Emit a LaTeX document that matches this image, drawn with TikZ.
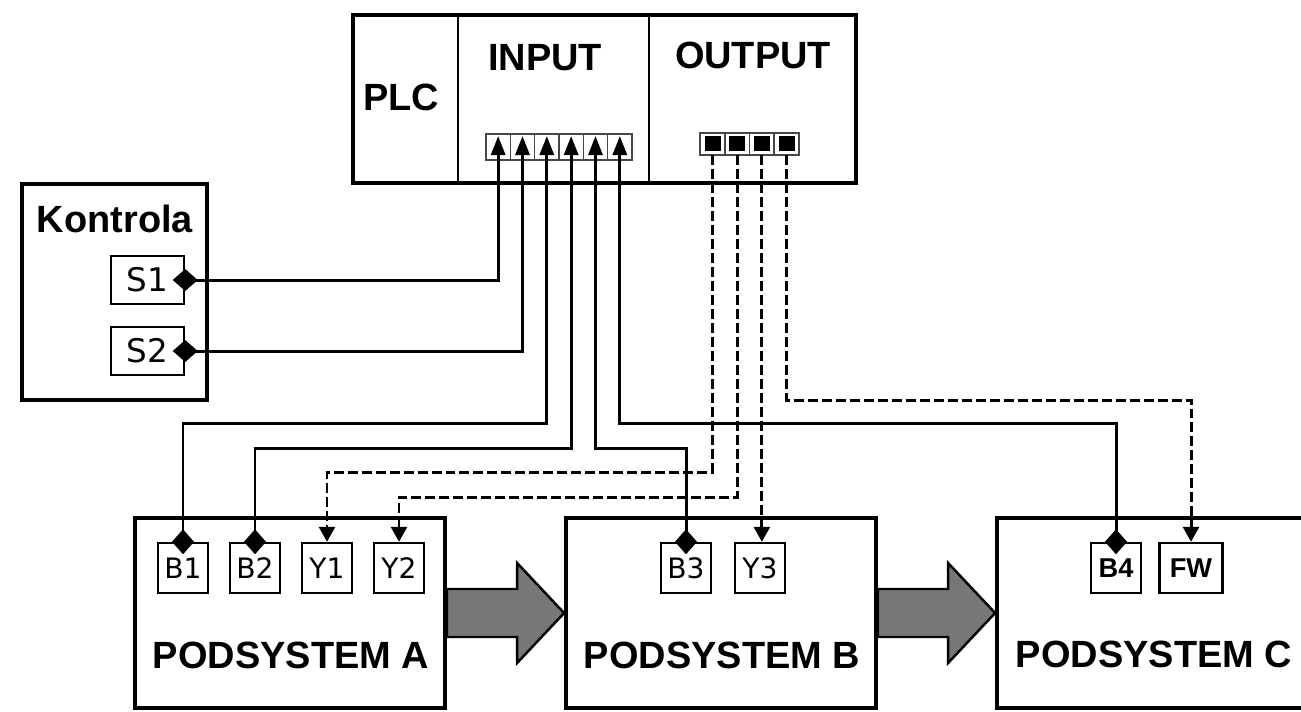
\documentclass[tikz,border=0pt]{standalone}
\usepackage{fontspec}
\setmainfont{Liberation Sans}
\newfontfamily\portfont{DejaVu Sans}
\usetikzlibrary{arrows.meta,calc,positioning,backgrounds}

\definecolor{flowgray}{RGB}{119,119,119}
\definecolor{stripgray}{RGB}{70,70,70}

\tikzset{
  block/.style={draw,line width=2.2pt,inner sep=0pt},
  title/.style={inner sep=0pt,font=\fontsize{21.6}{24}\selectfont\bfseries},
  port/.style={draw,line width=1.4pt,inner sep=0pt,minimum width=1cm,
    minimum height=1cm,font=\portfont\fontsize{16}{18}\selectfont},
  switch/.style={port,minimum width=1.46cm,minimum height=0.96cm,
    font=\portfont\fontsize{18.5}{20}\selectfont},
  boldport/.style={port,font=\fontsize{15.5}{17}\selectfont\bfseries},
  wire/.style={line width=1.7pt},
  sig/.style={wire,dash pattern=on 0.2cm off 0.08cm},
  sense/.style={wire,{Diamond[length=0.5cm,width=0.44cm]}-{Triangle[length=0.38cm,width=0.28cm]},
    shorten <=-0.25cm},
  act/.style={sig,-{Triangle[length=0.3cm,width=0.32cm]}},
  strip/.style={draw=stripgray,line width=0.9pt},
  flow/.style={fill=flowgray,draw=black,line width=1.4pt,line join=miter}
}

\begin{document}
\begin{tikzpicture}[x=0.02cm,y=-0.02cm]

% Canvas: 1301 x 711 px, 1 px = 0.02 cm, y grows downwards
\clip (0,0) rectangle (1301,711);

% ── Blocks ───────────────────────────────────────────────────────────────────
\node[block,minimum width=10.06cm,minimum height=3.36cm] (plc) at (604.5,99) {};
\node[block,minimum width=3.7cm,minimum height=4.32cm] (ctl) at (114.5,292) {};
\node[block,minimum width=6.2cm,minimum height=3.8cm] (A) at (290,613) {};
\node[block,minimum width=6.2cm,minimum height=3.8cm] (B) at (721,613) {};
\node[block,minimum width=6.2cm,minimum height=3.8cm] (C) at (1152,613) {};

% PLC sections
\foreach \x in {458,649}
  \draw[line width=1.4pt] (\x,15) -- (\x,183);

% ── Titles ───────────────────────────────────────────────────────────────────
\node[title,anchor=base] (tplc) at (401,110) {PLC};
\node[title,anchor=base] (tin)  at (545,70)  {INPUT};
\node[title,anchor=base] (tout) at (753,68)  {OUTPUT};
\node[title,anchor=base] (tctl) at (115,232) {Kontrola};
\node[title,anchor=base] (tA) at (291,668)  {PODSYSTEM A};
\node[title,anchor=base] (tB) at (722,668)  {PODSYSTEM B};
\node[title,anchor=base] (tC) at (1154,667) {PODSYSTEM C};

% ── Flow arrows between subsystems ───────────────────────────────────────────
\begin{scope}[on background layer]
\foreach \p/\q in {A/B,B/C}
  \draw[flow] ($(\p.east)+(0,-24)$) -- ($(\q.west)+(-47,-24)$)
    -- ($(\q.west)+(-47,-50)$) -- (\q.west) -- ($(\q.west)+(-47,50)$)
    -- ($(\q.west)+(-47,24)$) -- ($(\p.east)+(0,24)$) -- cycle;
\end{scope}

% ── Terminal strips ──────────────────────────────────────────────────────────
% input: 6 cells
\foreach \i in {1,...,6} {
  \draw[strip] ({486+(\i-1)*24.33},134) rectangle ++(24.33,26);
  \coordinate (in\i) at ({486+(\i-0.5)*24.33},136);
}
% output: 4 cells
\foreach \i in {1,...,4} {
  \draw[strip] ({700+(\i-1)*24.75},133) rectangle ++(24.75,22);
  \fill ({704.5+(\i-1)*24.75},136) rectangle ++(16,15);
  \coordinate (out\i) at ({700+(\i-0.5)*24.75},155);
}

% ── Sensors / actuators ──────────────────────────────────────────────────────
\node[switch] (S1) at (147.5,280) {S1};
\node[switch] (S2) at (147.5,351) {S2};

\node[port] (B1) at (183,568) {B1};
\node[port] (B2) at (255,568) {B2};
\node[port] (Y1) at (327,568) {Y1};
\node[port] (Y2) at (399,568) {Y2};
\node[port] (B3) at (686,568) {B3};
\node[port] (Y3) at (760,568) {Y3};
\node[boldport] (B4) at (1116,568) {B4};
\node[boldport,minimum width=1.26cm] (FW) at (1191,568) {FW};

% routing levels
\coordinate (busE) at (0,400);
\coordinate (busA) at (0,423);
\coordinate (busB) at (0,448);
\coordinate (busC) at (0,472);
\coordinate (busD) at (0,497);

% ── Input wiring ─────────────────────────────────────────────────────────────
\draw[sense] (S1.east) -| (in1);
\draw[sense] (S2.east) -| (in2);
\draw[sense] (B1.north) |- (busA -| in3) -- (in3);
\draw[sense] (B2.north) |- (busB -| in4) -- (in4);
\draw[sense] (B3.north) |- (busB -| in5) -- (in5);
\draw[sense] (B4.north) |- (busA -| in6) -- (in6);

% ── Output wiring ────────────────────────────────────────────────────────────
\draw[act] (out1) -- (out1 |- busC) -| (Y1.north);
\draw[act] (out2) -- (out2 |- busD) -| (Y2.north);
\draw[act] (out3) -- (out3 |- Y3.north);
\draw[act] (out4) -- (out4 |- busE) -| (FW.north);

\end{tikzpicture}
\end{document}
